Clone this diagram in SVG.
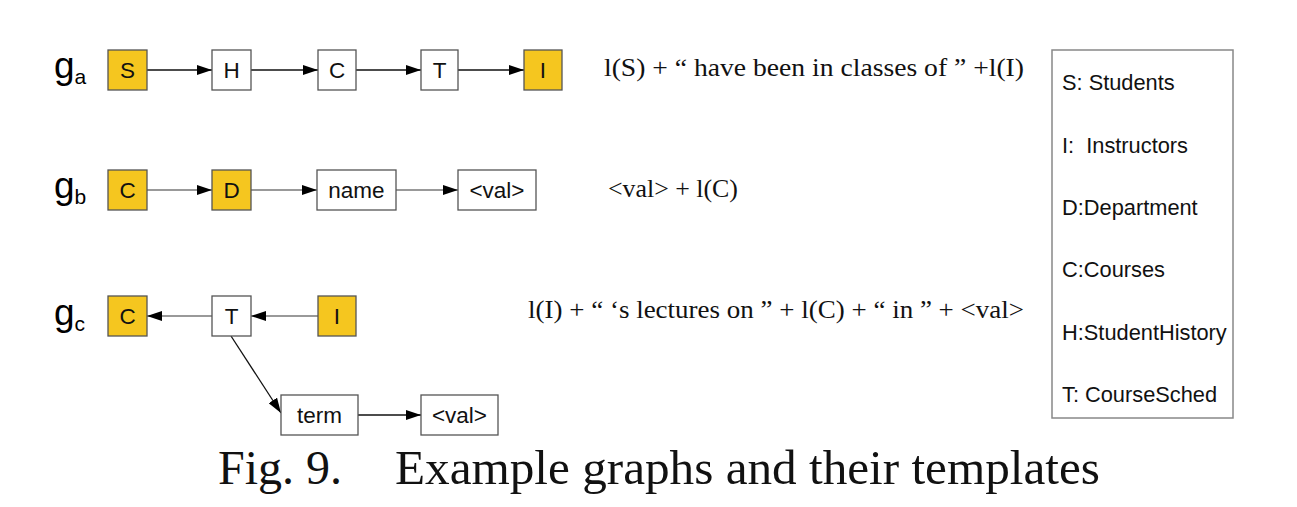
<svg xmlns="http://www.w3.org/2000/svg" width="1297" height="507" viewBox="0 0 1297 507">
<style>
.box{fill:#fff;stroke:#555;stroke-width:1.3}
.hl{fill:#F5C61F;stroke:#555;stroke-width:1.3}
.lbl{font-family:"Liberation Sans",Arial,sans-serif;font-size:22.5px;fill:#111;text-anchor:middle}
.g{font-family:"Liberation Sans",Arial,sans-serif;font-size:37px;fill:#000}
.sub{font-size:21px}
.tpl{font-family:"Liberation Serif","Times New Roman",serif;font-size:25px;fill:#111}
.leg{font-family:"Liberation Sans",Arial,sans-serif;font-size:21.8px;fill:#111;white-space:pre}
.cap{font-family:"Liberation Serif","Times New Roman",serif;font-size:48px;fill:#111}
.k{stroke:#111;stroke-width:1.3;fill:none}
.gr{stroke:#777;stroke-width:1.6;fill:none}
</style>
<defs>
<marker id="ah" markerUnits="userSpaceOnUse" markerWidth="15" markerHeight="10" refX="15" refY="5" orient="auto">
<path d="M0,0 L15,5 L0,10 z" fill="#000"/>
</marker>
</defs>
<rect width="1297" height="507" fill="#fff"/>
<g id="labels">
<text class="g" x="54" y="78">g<tspan class="sub" dy="6">a</tspan></text>
<text class="g" x="54" y="198">g<tspan class="sub" dy="6">b</tspan></text>
<text class="g" x="54" y="325">g<tspan class="sub" dy="6">c</tspan></text>
</g>
<g id="connectors">
<line class="k" x1="147" y1="70" x2="212" y2="70" marker-end="url(#ah)"/>
<line class="k" x1="251" y1="70" x2="318" y2="70" marker-end="url(#ah)"/>
<line class="k" x1="356" y1="70" x2="421" y2="70" marker-end="url(#ah)"/>
<line class="k" x1="458" y1="70" x2="524" y2="70" marker-end="url(#ah)"/>
<line class="gr" x1="147" y1="190" x2="212" y2="190" marker-end="url(#ah)"/>
<line class="gr" x1="251" y1="190" x2="317" y2="190" marker-end="url(#ah)"/>
<line class="gr" x1="396" y1="190" x2="458" y2="190" marker-end="url(#ah)"/>
<line class="gr" x1="212" y1="316" x2="147" y2="316" marker-end="url(#ah)"/>
<line class="gr" x1="318" y1="316" x2="251" y2="316" marker-end="url(#ah)"/>
<line class="k" x1="231" y1="336" x2="281" y2="413" marker-end="url(#ah)"/>
<line class="k" x1="358" y1="415" x2="421" y2="415" marker-end="url(#ah)"/>
</g>
<g id="ga-S"><rect class="hl" x="108" y="50" width="39" height="40"/><text class="lbl" x="127.5" y="78">S</text></g>
<g id="ga-H"><rect class="box" x="212" y="50" width="39" height="40"/><text class="lbl" x="231.5" y="78">H</text></g>
<g id="ga-C"><rect class="box" x="318" y="50" width="38" height="40"/><text class="lbl" x="337" y="78">C</text></g>
<g id="ga-T"><rect class="box" x="421" y="50" width="37" height="40"/><text class="lbl" x="439.5" y="78">T</text></g>
<g id="ga-I"><rect class="hl" x="524" y="50" width="38" height="40"/><text class="lbl" x="543" y="78">I</text></g>
<g id="gb-C"><rect class="hl" x="108" y="170" width="39" height="40"/><text class="lbl" x="127.5" y="198">C</text></g>
<g id="gb-D"><rect class="hl" x="212" y="170" width="39" height="40"/><text class="lbl" x="231.5" y="198">D</text></g>
<g id="gb-name"><rect class="box" x="317" y="170" width="79" height="40"/><text class="lbl" x="356.5" y="198">name</text></g>
<g id="gb-val"><rect class="box" x="458" y="170" width="78" height="40"/><text class="lbl" x="497" y="198">&lt;val&gt;</text></g>
<g id="gc-C"><rect class="hl" x="108" y="296" width="39" height="40"/><text class="lbl" x="127.5" y="324">C</text></g>
<g id="gc-T"><rect class="box" x="212" y="296" width="39" height="40"/><text class="lbl" x="231.5" y="324">T</text></g>
<g id="gc-I"><rect class="hl" x="318" y="296" width="38" height="40"/><text class="lbl" x="337" y="324">I</text></g>
<g id="gc-term"><rect class="box" x="281" y="395" width="77" height="40"/><text class="lbl" x="319.5" y="423">term</text></g>
<g id="gc-val"><rect class="box" x="421" y="395" width="77" height="40"/><text class="lbl" x="459.5" y="423">&lt;val&gt;</text></g>
<g id="templates">
<text class="tpl" x="604" y="76" textLength="420" lengthAdjust="spacingAndGlyphs">l(S) + “ have been in classes of ” +l(I)</text>
<text class="tpl" x="608" y="197" textLength="130" lengthAdjust="spacingAndGlyphs">&lt;val&gt; + l(C)</text>
<text class="tpl" x="528" y="318" textLength="496" lengthAdjust="spacingAndGlyphs">l(I) + “ ‘s lectures on ” + l(C) + “ in ” + &lt;val&gt;</text>
</g>
<g id="legend">
<rect x="1052" y="50" width="181" height="368" fill="#fff" stroke="#888" stroke-width="1.5"/>
<text class="leg" x="1062" y="90">S: Students</text>
<text class="leg" x="1062" y="153">I:  Instructors</text>
<text class="leg" x="1062" y="215">D:Department</text>
<text class="leg" x="1062" y="277">C:Courses</text>
<text class="leg" x="1062" y="340">H:StudentHistory</text>
<text class="leg" x="1062" y="402">T: CourseSched</text>
</g>
<g id="caption">
<text class="cap" x="218" y="484">Fig. 9.</text>
<text class="cap" x="395" y="484" textLength="705" lengthAdjust="spacingAndGlyphs">Example graphs and their templates</text>
</g>
</svg>
